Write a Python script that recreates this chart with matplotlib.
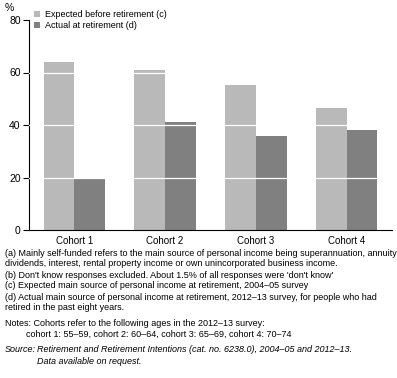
import matplotlib.pyplot as plt
import numpy as np

plt.rcParams['font.family'] = ['Liberation Sans', 'DejaVu Sans']

cohorts = ['Cohort 1', 'Cohort 2', 'Cohort 3', 'Cohort 4']
expected = [64, 61, 55.2, 46.5]
actual = [19.5, 41.1, 35.8, 38]
yticks = [0, 20, 40, 60, 80]

footnotes = [
    '(a) Mainly self-funded refers to the main source of personal income being superannuation, annuity',
    'dividends, interest, rental property income or own unincorporated business income.',
    "(b) Don't know responses excluded. About 1.5% of all responses were 'don't know'",
    '(c) Expected main source of personal income at retirement, 2004\u201305 survey',
    '(d) Actual main source of personal income at retirement, 2012\u201313 survey, for people who had',
    'retired in the past eight years.',
]

fig = plt.figure(figsize=(3.97, 3.78), dpi=100)
ax = fig.add_axes([29 / 397, 148 / 378, 363 / 397, 210 / 378])

x = np.arange(len(cohorts))
w = 0.34
ax.bar(x - w / 2, expected, w, color='#b9b9b9', label='Expected before retirement (c)', zorder=2)
ax.bar(x + w / 2, actual, w, color='#808080', label='Actual at retirement (d)', zorder=2)

for y in yticks[1:-1]:
    ax.axhline(y, color='white', lw=0.9, zorder=3)

ax.set_xlim(-0.5, 3.5)
ax.set_ylim(0, 80)
ax.set_yticks(yticks)
ax.set_xticks(x)
ax.set_xticklabels(cohorts)
ax.tick_params(axis='x', length=0, labelsize=7, pad=4)
ax.tick_params(axis='y', length=4, width=0.8, labelsize=7.5, pad=2)
for s in ['top', 'right']:
    ax.spines[s].set_visible(False)
ax.spines['left'].set_linewidth(0.8)
ax.spines['bottom'].set_linewidth(0.8)

ax.legend(loc='upper left', bbox_to_anchor=(0.005, 1.065), frameon=False, fontsize=6.5,
          handlelength=0.6, handleheight=0.6, handletextpad=0.6, labelspacing=0.25,
          borderaxespad=0)

fig.text(5 / 397, 1 - 8 / 378, '%', fontsize=7.5, va='center')

fs = 6.5
ys = [253, 264, 275, 286, 297, 308]
for y, t in zip(ys, footnotes):
    fig.text(5 / 397, 1 - y / 378, t, fontsize=fs, va='center')

fig.text(5 / 397, 1 - 323 / 378, 'Notes: Cohorts refer to the following ages in the 2012\u201313 survey:', fontsize=fs, va='center')
fig.text(26 / 397, 1 - 334 / 378, 'cohort 1: 55\u201359, cohort 2: 60\u201364, cohort 3: 65\u201369, cohort 4: 70\u201374', fontsize=fs, va='center')
fig.text(5 / 397, 1 - 350 / 378, 'Source:', fontsize=fs, va='center', style='italic')
fig.text(37 / 397, 1 - 350 / 378, 'Retirement and Retirement Intentions (cat. no. 6238.0), 2004\u201305 and 2012\u201313.',
         fontsize=fs, va='center', style='italic')
fig.text(37 / 397, 1 - 361 / 378, 'Data available on request.', fontsize=fs, va='center', style='italic')

fig.savefig('out.png', dpi=100)
